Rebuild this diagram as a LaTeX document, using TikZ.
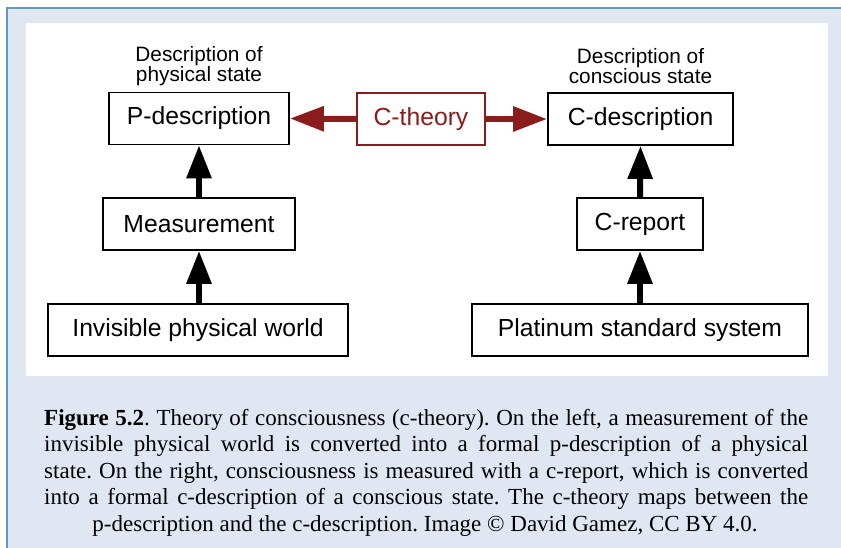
\documentclass[tikz,border=0pt]{standalone}
\usepackage{fontspec}
\setmainfont{Liberation Serif}
\newfontfamily\arialfont{Liberation Sans}
\usetikzlibrary{arrows.meta}
\definecolor{panelblue}{HTML}{E0E7F3}
\definecolor{edgeblue}{HTML}{5C9BB9}
\definecolor{theoryred}{HTML}{8B1C1C}
\begin{document}
\frenchspacing
\begin{tikzpicture}[x=1pt,y=-1pt,
  box/.style={draw=black, line width=1.8pt, fill=white, inner sep=0pt,
    minimum height=52pt, font=\arialfont\fontsize{24.7}{28}\selectfont},
  redbox/.style={box, draw=theoryred, text=theoryred},
  desclabel/.style={align=center, inner sep=0pt,
    font=\arialfont\fontsize{20.8}{20}\selectfont},
  uparrow/.style={line width=6pt, -{Triangle[length=33pt,width=24pt]}},
  redarrow/.style={draw=theoryred, line width=6pt, theoryred,
    -{Triangle[length=34pt,width=24pt]}},
  capline/.style={inner sep=0pt, font=\fontsize{23}{26}\selectfont},
]
\useasboundingbox (0,0) rectangle (841,548);
% panel
\fill[panelblue] (6,8) rectangle (841,548);
\draw[edgeblue, line width=2pt] (6.5,548) -- (6.5,8.5) -- (841,8.5);
\fill[white] (26,23) rectangle (828,376);

% nodes
\node[box, minimum width=180pt] (pdesc) at (199,118.5) {P-description};
\node[box, minimum width=185pt] (cdesc) at (640.5,119) {C-description};
\node[redbox, minimum width=128pt] (ctheory) at (421,119) {C-theory};
\node[box, minimum width=192pt] (meas) at (199,224) {Measurement};
\node[box, minimum width=300pt] (world) at (198,330) {Invisible physical world};
\node[box, minimum width=126pt] (creport) at (640,224) {C-report};
\node[box, minimum width=336pt] (platinum) at (640,330) {Platinum standard system};

\node[desclabel] (plabel) at (199,66) {Description of\\physical state};
\node[desclabel] (clabel) at (640.5,66) {Description of\\conscious state};

% connectors
\draw[uparrow] (world.north -| meas.south) -- (meas.south);
\draw[uparrow] (meas.north) -- (pdesc.south);
\draw[uparrow] (platinum.north -| creport.south) -- (creport.south);
\draw[uparrow] (creport.north) -- (cdesc.south);
\draw[redarrow] (ctheory.west) -- (pdesc.east);
\draw[redarrow] (ctheory.east) -- (cdesc.west);

% caption
\node[capline, anchor=base west] (cap1) at (44,425) {\hbox to 764pt{\textbf{Figure 5.2}. Theory of consciousness (c-theory). On the left, a measurement of the}};
\node[capline, anchor=base west] (cap2) at (44,451.5) {\hbox to 764pt{invisible physical world is converted into a formal p-description of a physical}};
\node[capline, anchor=base west] (cap3) at (44,478) {\hbox to 764pt{state. On the right, consciousness is measured with a c-report, which is converted}};
\node[capline, anchor=base west] (cap4) at (44,504.5) {\hbox to 764pt{into a formal c-description of a conscious state. The c-theory maps between the}};
\node[capline, anchor=base] (cap5) at (425,531) {p-description and the c-description. Image \textcopyright{} David Gamez, CC BY 4.0.};
\end{tikzpicture}
\end{document}
